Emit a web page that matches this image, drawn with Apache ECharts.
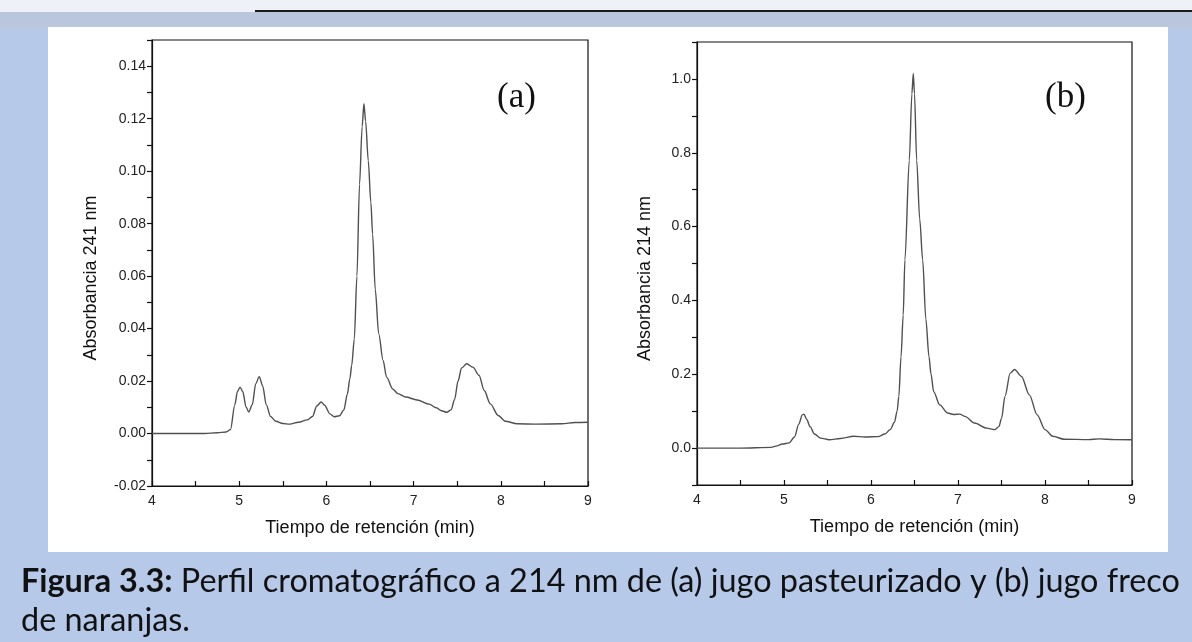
<!DOCTYPE html>
<html>
<head>
<meta charset="utf-8">
<script src="https://cdn.jsdelivr.net/npm/echarts@6/dist/echarts.min.js"></script>
<style>
html,body{margin:0;padding:0;background:#b6c9e9;}
#chart{width:1192px;height:642px;}
</style>
</head>
<body>
<div id="chart"></div>
<script>
// ---- data ----
const timeA = [4.0,4.3,4.6,4.75,4.85,4.9,4.95,4.98,5.01,5.04,5.08,5.11,5.15,5.19,5.23,5.27,5.31,5.36,5.42,5.5,5.58,5.68,5.78,5.84,5.89,5.94,5.98,6.04,6.09,6.15,6.2,6.24,6.27,6.29,6.32,6.35,6.38,6.41,6.43,6.45,6.48,6.51,6.53,6.56,6.6,6.65,6.69,6.76,6.82,6.91,7.04,7.18,7.26,7.32,7.38,7.43,7.47,7.51,7.55,7.61,7.68,7.75,7.81,7.88,7.97,8.05,8.19,8.4,8.7,8.85,9.0];
const absA  = [0.0,0.0,0.0,0.0003,0.0006,0.0015,0.011,0.016,0.0177,0.016,0.010,0.0082,0.011,0.019,0.0217,0.018,0.011,0.0065,0.0047,0.0038,0.0036,0.0043,0.0052,0.0065,0.0105,0.0120,0.0108,0.0075,0.0064,0.0068,0.009,0.015,0.021,0.026,0.036,0.060,0.095,0.117,0.1257,0.119,0.104,0.088,0.076,0.055,0.038,0.0279,0.0215,0.017,0.0152,0.0139,0.0128,0.0112,0.0098,0.0087,0.0081,0.009,0.013,0.020,0.025,0.0266,0.0253,0.0222,0.0164,0.0113,0.0069,0.0047,0.0037,0.0036,0.0037,0.0042,0.0043];

const timeB = [4.0,4.5,4.85,4.92,4.98,5.06,5.12,5.17,5.21,5.23,5.26,5.3,5.35,5.42,5.52,5.65,5.8,5.93,6.08,6.16,6.22,6.27,6.3,6.32,6.345,6.37,6.39,6.44,6.47,6.486,6.5,6.525,6.56,6.594,6.63,6.667,6.69,6.72,6.79,6.88,6.95,7.02,7.08,7.19,7.33,7.42,7.47,7.5,7.54,7.6,7.65,7.73,7.82,7.91,8.0,8.09,8.22,8.5,8.62,8.8,9.0];
const absB  = [0.0,0.0,0.002,0.006,0.011,0.014,0.03,0.065,0.09,0.092,0.078,0.058,0.038,0.027,0.0225,0.026,0.032,0.03,0.031,0.038,0.05,0.07,0.1,0.14,0.247,0.36,0.51,0.78,0.96,1.015,0.96,0.78,0.62,0.51,0.35,0.247,0.2,0.153,0.117,0.095,0.091,0.092,0.086,0.068,0.054,0.05,0.058,0.08,0.14,0.203,0.213,0.194,0.144,0.09,0.05,0.032,0.024,0.023,0.025,0.023,0.0225];

const xTickLabels = ['4','5','6','7','8','9'];
const yTicksA = ['-0.02','0.00','0.02','0.04','0.06','0.08','0.10','0.12','0.14'];
const yTicksB = ['0.0','0.2','0.4','0.6','0.8','1.0'];

const xTitle = 'Tiempo de retención (min)';
const yTitleA = 'Absorbancia 241 nm';
const yTitleB = 'Absorbancia 214 nm';
const panelA = '(a)';
const panelB = '(b)';
const captionBold = 'Figura 3.3:';
const captionRest1 = ' Perfil cromatográfico a 214 nm de (a) jugo pasteurizado y (b) jugo freco';
const captionLine2 = 'de naranjas.';

// ---- helpers ----
const pairs = (xs, ys) => xs.map((x, i) => [x, ys[i]]);
const FONT = "'Liberation Sans', Arial, sans-serif";
const CAPFONT = "'Comic Sans MS', Lato, sans-serif";

function fitSize(targetW) {
  const c = document.createElement('canvas').getContext('2d');
  c.font = 'bold 100px ' + CAPFONT;
  const w1 = c.measureText(captionBold).width;
  c.font = '100px ' + CAPFONT;
  const w2 = c.measureText(captionRest1).width;
  return 100 * targetW / (w1 + w2);
}
const capSize = fitSize(1158);

function xAxisDef(gi) {
  return {
    type: 'value', gridIndex: gi, min: 4, max: 9, interval: 0.5,
    name: xTitle, nameLocation: 'middle', nameGap: 33,
    nameTextStyle: {fontFamily: FONT, fontSize: 18, color: '#111'},
    axisLine: {onZero: false, lineStyle: {color: '#111', width: 1.2}},
    axisTick: {inside: true, length: 5, lineStyle: {color: '#111', width: 1.2}},
    axisLabel: {
      fontFamily: FONT, fontSize: 14, color: '#222', margin: 8,
      formatter: v => { const i = xTickLabels.indexOf(String(Math.round(v*2)/2)); return i >= 0 ? xTickLabels[i] : ''; }
    },
    splitLine: {show: false}
  };
}

function yAxisDef(gi, min, max, step, labels, decimals, name, gap) {
  return {
    type: 'value', gridIndex: gi, min: min, max: max, interval: step,
    name: name, nameLocation: 'middle', nameGap: gap,
    nameTextStyle: {fontFamily: FONT, fontSize: 18, color: '#111', padding: [0, 30, 0, 0]},
    axisLine: {onZero: false, lineStyle: {color: '#111', width: 1.2}},
    axisTick: {inside: false, length: 5, lineStyle: {color: '#111', width: 1.2}},
    axisLabel: {
      fontFamily: FONT, fontSize: 14, color: '#222', margin: 6,
      formatter: v => { const s = v.toFixed(decimals); return labels.indexOf(s) >= 0 ? s : ''; }
    },
    splitLine: {show: false}
  };
}

const chart = echarts.init(document.getElementById('chart'), null, {renderer: 'canvas'});
chart.setOption({
  backgroundColor: '#b6c9e9',
  animation: false,
  graphic: [
    {type: 'rect', z: -10, shape: {x: 0, y: 0, width: 1192, height: 12}, style: {fill: '#eef2f8'}},
    {type: 'rect', z: -10, shape: {x: 0, y: 12, width: 1192, height: 16}, style: {fill: '#b9c6dc'}},
    {type: 'rect', z: -9, shape: {x: 255, y: 10, width: 937, height: 2}, style: {fill: '#1a1a1a'}},
    {type: 'rect', z: -10, shape: {x: 48, y: 27, width: 1120, height: 525}, style: {fill: '#ffffff'}},
    {type: 'text', left: 497, top: 80, style: {text: panelA, font: "35px 'Liberation Serif', serif", fill: '#111'}},
    {type: 'text', left: 1045, top: 80, style: {text: panelB, font: "35px 'Liberation Serif', serif", fill: '#111'}},
    {type: 'text', left: 21, top: 566, style: {
      text: '{b|' + captionBold + '}' + captionRest1,
      font: capSize.toFixed(1) + 'px ' + CAPFONT, fill: '#111',
      rich: {b: {fontWeight: 'bold', fontSize: capSize, fontFamily: CAPFONT, fill: '#111'}}
    }},
    {type: 'text', left: 21, top: 605, style: {text: captionLine2, font: capSize.toFixed(1) + 'px ' + CAPFONT, fill: '#111'}}
  ],
  grid: [
    {left: 152, top: 40, width: 436, height: 446, show: true, borderColor: '#111', borderWidth: 1.2, backgroundColor: 'transparent'},
    {left: 697, top: 42, width: 435, height: 443, show: true, borderColor: '#111', borderWidth: 1.2, backgroundColor: 'transparent'}
  ],
  xAxis: [xAxisDef(0), xAxisDef(1)],
  yAxis: [
    yAxisDef(0, -0.02, 0.15, 0.01, yTicksA, 2, yTitleA, 52),
    yAxisDef(1, -0.1, 1.1, 0.1, yTicksB, 1, yTitleB, 43)
  ],
  series: [
    {type: 'line', xAxisIndex: 0, yAxisIndex: 0, data: pairs(timeA, absA), showSymbol: false,
     smooth: 0.3, smoothMonotone: 'x', lineStyle: {color: '#505050', width: 1.4}},
    {type: 'line', xAxisIndex: 1, yAxisIndex: 1, data: pairs(timeB, absB), showSymbol: false,
     smooth: 0.3, smoothMonotone: 'x', lineStyle: {color: '#505050', width: 1.4}}
  ]
});
</script>
</body>
</html>
